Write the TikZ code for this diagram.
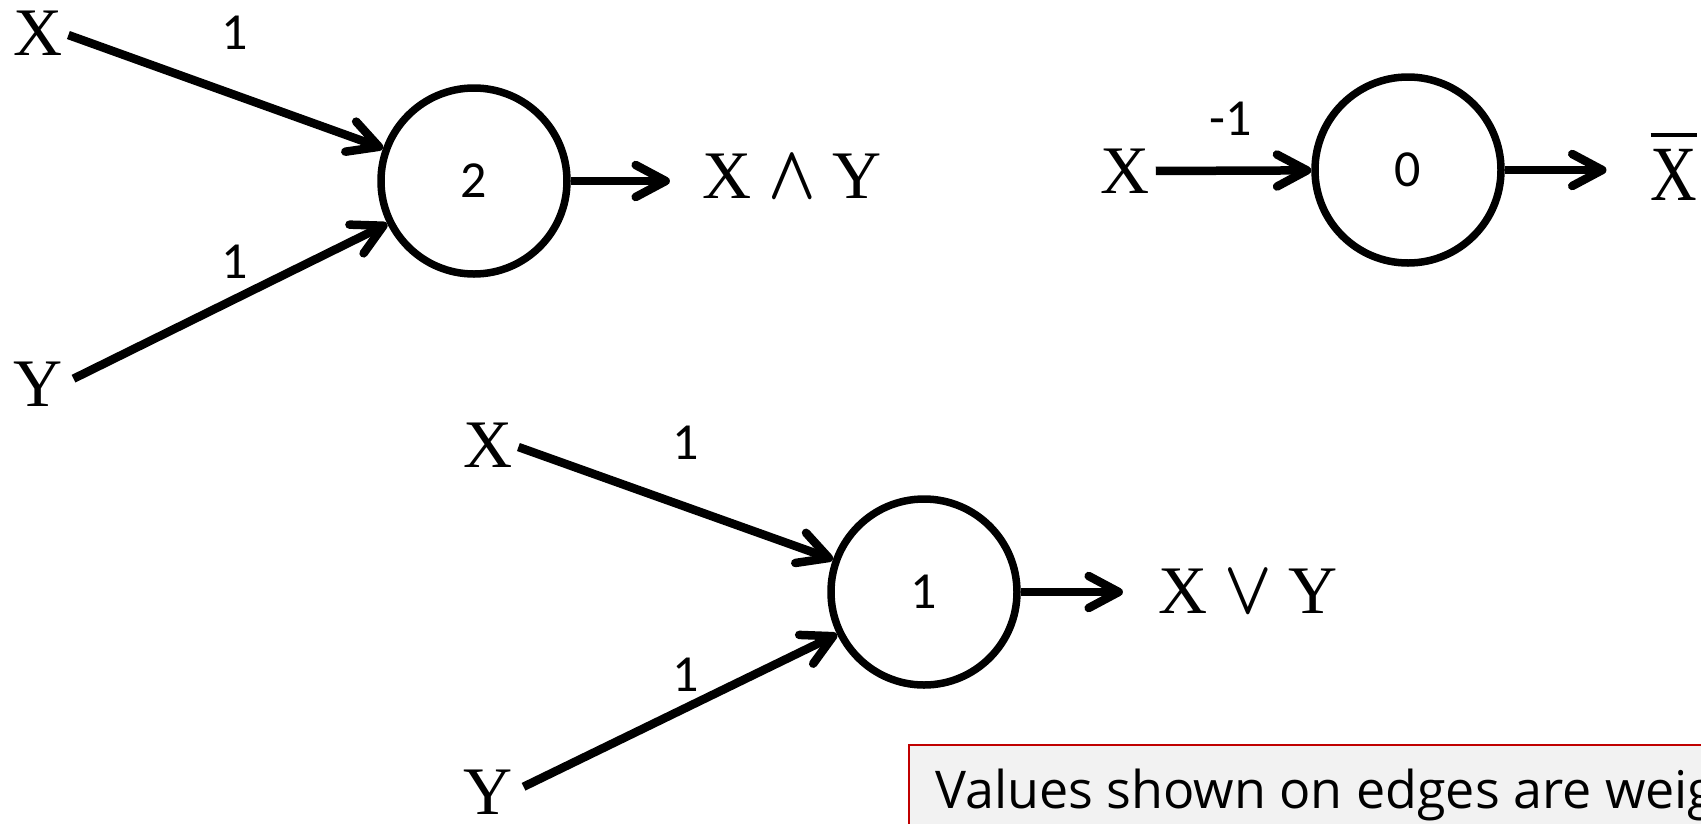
\documentclass[tikz,border=0pt]{standalone}
\usepackage{fontspec}
\usepackage{graphicx}
\setmainfont{Liberation Serif}
\newfontfamily\carl{Carlito}
\newfontfamily\notefont{Open Sans}
\usetikzlibrary{arrows.meta}
\newcommand\ovlX{\scalebox{0.95}[1.15]{\setbox0\hbox{X}\rlap{\rule[55pt]{\wd0}{3.5pt}}\box0}}
\newcommand\opsym[1]{\scalebox{6.2}[7.6]{\fontsize{10}{12}\selectfont\boldmath$#1$}}
\definecolor{notered}{HTML}{C00000}
\definecolor{notefill}{HTML}{F2F2F2}
\tikzset{
  lbl/.style={inner sep=0pt, font=\fontsize{68}{68}\selectfont},
  wgt/.style={inner sep=0pt, font=\carl\fontsize{52}{52}\selectfont},
  neuron/.style={circle, draw, line width=7.5pt, minimum size=186pt, inner sep=0pt,
    font=\carl\fontsize{52}{52}\selectfont},
  conn/.style={line width=8.5pt,
    -{Straight Barb[length=30pt,width=32pt,round]}},
  notebox/.style={draw=notered, fill=notefill, line width=1.5pt},
}
\begin{document}
\begin{tikzpicture}[x=1pt,y=-1pt]
\useasboundingbox (0,0) rectangle (1701,823);
\clip (0,0) rectangle (1701,823);
% AND
\node[neuron] (and) at (474,181) {2};
\node[lbl] (x1) at (38,33) {X};
\node[lbl] (y1) at (38,384) {Y};
\node[wgt] (w1) at (235,33) {1};
\node[wgt] (w2) at (235,262) {1};
\node[lbl] (andout) at (792,176) {X \opsym{\wedge} Y};
\draw[conn, shorten <=6pt] (x1.east) -- (and);
\draw[conn, shorten <=12pt] (y1.east) -- (and);
\draw[conn, shorten >=32pt] (and.east) -- (and.east -| andout.west);
% NOT
\node[neuron] (not) at (1408,170) {0};
\node[lbl] (x2) at (1125,171) {X};
\node[wgt] (w3) at (1231,119) {-1};
\node[lbl, anchor=base] (notout) at (1674,200) {\ovlX};
\draw[conn, shorten <=6pt] (x2.east) -- (not);
\draw[conn, shorten >=44pt] (not.east) -- (not.east -| notout.west);
% OR
\node[neuron] (or) at (924,592) {1};
\node[lbl] (x3) at (488,445) {X};
\node[lbl] (y3) at (488,792) {Y};
\node[wgt] (w4) at (686,443) {1};
\node[wgt] (w5) at (686,675) {1};
\node[lbl] (orout) at (1248,591) {X \opsym{\vee} Y};
\draw[conn, shorten <=6pt] (x3.east) -- (or);
\draw[conn, shorten <=12pt] (y3.east) -- (or);
\draw[conn, shorten >=35pt] (or.east) -- (or.east -| orout.west);
% note
\draw[notebox] (909,745) rectangle (1760,880);
\node[anchor=base west, inner sep=0pt, font=\notefont\fontsize{52}{52}\selectfont] (note) at (935,808) {Values shown on edges are weights};
\end{tikzpicture}
\end{document}
